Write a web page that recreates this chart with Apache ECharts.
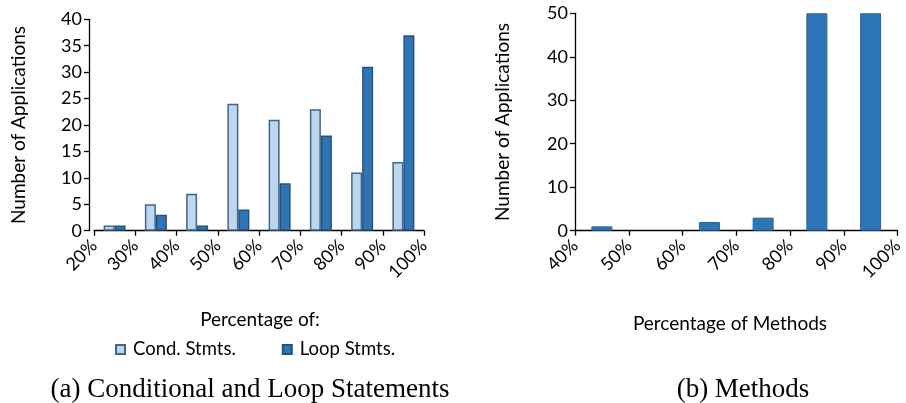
<!DOCTYPE html>
<html><head><meta charset="utf-8">
<script src="https://cdn.jsdelivr.net/npm/echarts@6/dist/echarts.min.js"></script>
<style>html,body{margin:0;padding:0;background:#fff}#c{width:906px;height:403px}</style>
</head><body><div id="c"></div>
<script>
// Left chart (a)
const binsA = ['20-30%','30-40%','40-50%','50-60%','60-70%','70-80%','80-90%','90-100%'];
const condStmts = [1, 5, 7, 24, 21, 23, 11, 13];
const loopStmts = [1, 3, 1, 4, 9, 18, 31, 37];
// Right chart (b)
const binsB = ['40-50%','50-60%','60-70%','70-80%','80-90%','90-100%'];
const methods = [1, 0, 2, 3, 50, 50];

const tickFont = {fontFamily:'Lato', fontSize:18, color:'#000'};
const axLine = {show:true, lineStyle:{color:'#000', width:1.3}};
const axTick = {show:true, length:5, lineStyle:{color:'#000', width:1.3}};

const chart = echarts.init(document.getElementById('c'), null, {renderer:'canvas'});
chart.setOption({
  animation:false,
  title:[
    {text:'Percentage of:', left:255, top:305, textAlign:'center', textStyle:{fontFamily:'Lato', fontSize:19, fontWeight:'normal', color:'#000'}},
    {text:'Percentage of Methods', left:725, top:309, textAlign:'center', textStyle:{fontFamily:'Lato', fontSize:19, fontWeight:'normal', color:'#000'}},
    {text:'(a) Conditional and Loop Statements', left:245, top:371, textAlign:'center', textStyle:{fontFamily:'Liberation Serif', fontSize:27, fontWeight:'normal', color:'#000'}},
    {text:'(b) Methods', left:738, top:371, textAlign:'center', textStyle:{fontFamily:'Liberation Serif', fontSize:27, fontWeight:'normal', color:'#000'}}
  ],
  legend:{
    data:['Cond. Stmts.','Loop Stmts.'], left:110, top:335, icon:'rect', itemWidth:9, itemHeight:9, itemGap:46,
    textStyle:{fontFamily:'Lato', fontSize:18.5, color:'#000', padding:[0,0,0,3]}
  },
  grid:[
    {left:94, top:19.3, width:330, height:211.4, containLabel:false},
    {left:575, top:13.3, width:330, height:217.4, containLabel:false}
  ],
  xAxis:[
    {type:'category', gridIndex:0, data:binsA, show:false},
    {type:'value', gridIndex:0, min:20, max:100, interval:10, position:'bottom',
      axisLine:axLine, axisTick:axTick, splitLine:{show:false},
      axisLabel:Object.assign({rotate:45, margin:12, formatter:v=>v+'%'}, tickFont)},
    {type:'category', gridIndex:1, data:binsB, show:false},
    {type:'value', gridIndex:1, min:40, max:100, interval:10, position:'bottom',
      axisLine:axLine, axisTick:axTick, splitLine:{show:false},
      axisLabel:Object.assign({rotate:45, margin:12, formatter:v=>v+'%'}, tickFont)}
  ],
  yAxis:[
    {type:'value', gridIndex:0, min:0, max:40, interval:5, offset:5,
      name:'Number of Applications', nameLocation:'middle', nameGap:61,
      nameTextStyle:{fontFamily:'Lato', fontSize:19, color:'#000'},
      axisLine:axLine, axisTick:axTick, splitLine:{show:false},
      axisLabel:Object.assign({margin:7}, tickFont)},
    {type:'value', gridIndex:1, min:0, max:50, interval:10,
      name:'Number of Applications', nameLocation:'middle', nameGap:63,
      nameTextStyle:{fontFamily:'Lato', fontSize:19, color:'#000'},
      axisLine:axLine, axisTick:axTick, splitLine:{show:false},
      axisLabel:Object.assign({margin:7}, tickFont)}
  ],
  series:[
    {name:'Cond. Stmts.', type:'bar', xAxisIndex:0, yAxisIndex:0, data:condStmts, barWidth:11, barGap:'0%',
      itemStyle:{color:'#BDD7EE', borderColor:'#41658F', borderWidth:1.5}},
    {name:'Loop Stmts.', type:'bar', xAxisIndex:0, yAxisIndex:0, data:loopStmts, barWidth:11, barGap:'0%',
      itemStyle:{color:'#2E75B6', borderColor:'#24527F', borderWidth:1.5}},
    {name:'Methods', type:'bar', xAxisIndex:2, yAxisIndex:1, data:methods.map(v => v === 0 ? null : v), barWidth:21,
      itemStyle:{color:'#2E75B6', borderColor:'#2A6399', borderWidth:1}}
  ]
});
</script></body></html>
